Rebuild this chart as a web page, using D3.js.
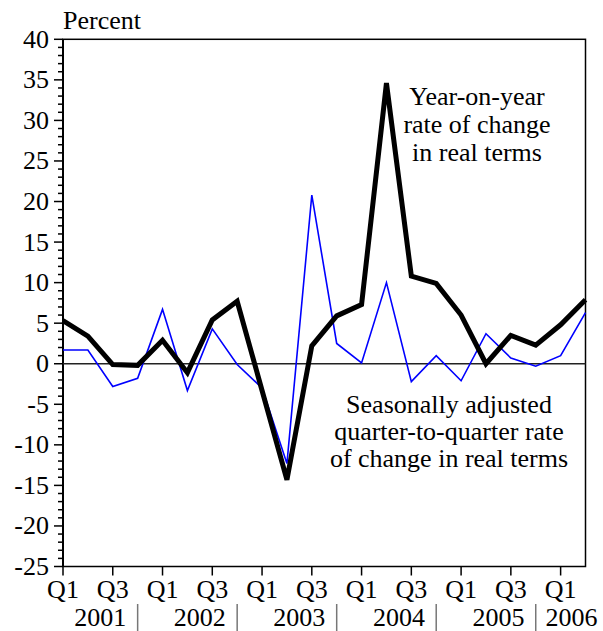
<!DOCTYPE html>
<html>
<head>
<meta charset="utf-8">
<script src="https://cdn.jsdelivr.net/npm/d3@7"></script>
</head>
<body style="margin:0;background:#fff">
<script>
// ---- data ----
const quarters = [
  "2001 Q1","2001 Q2","2001 Q3","2001 Q4",
  "2002 Q1","2002 Q2","2002 Q3","2002 Q4",
  "2003 Q1","2003 Q2","2003 Q3","2003 Q4",
  "2004 Q1","2004 Q2","2004 Q3","2004 Q4",
  "2005 Q1","2005 Q2","2005 Q3","2005 Q4",
  "2006 Q1","2006 Q2"
];
const years = ["2001","2002","2003","2004","2005","2006"];
// Year-on-year rate of change in real terms
const yoy = [5.3, 3.4, -0.1, -0.2, 2.9, -1.1, 5.4, 7.7, -3.3, -14.3, 2.2, 5.9,
             7.3, 34.6, 10.8, 9.9, 6.0, 0.0, 3.5, 2.3, 4.8, 7.9];
// Seasonally adjusted quarter-to-quarter rate of change in real terms
const qoq = [1.7, 1.7, -2.8, -1.8, 6.7, -3.3, 4.3, -0.1, -3.0, -12.3, 20.8, 2.5,
             0.1, 10.0, -2.2, 1.0, -2.1, 3.7, 0.7, -0.3, 1.0, 6.3];
const yTicks = [40, 35, 30, 25, 20, 15, 10, 5, 0, -5, -10, -15, -20, -25];
const yDomain = [-25, 40];

// ---- layout ----
const W = 603, H = 631;
const L = 63, R = 585.5, T = 39.3, B = 566.5;
const FS = 26;

const svg = d3.select("body").append("svg").attr("width", W).attr("height", H)
  .style("display", "block");

const x = d3.scalePoint().domain(quarters).range([L, R]);
const y = d3.scaleLinear().domain(yDomain).range([B, T]);

function txt(sel) {
  return sel.style("font-family", () => '"Liberation Serif"').attr("font-size", FS).attr("fill", "#000");
}

// frame
svg.append("rect").attr("x", L).attr("y", T).attr("width", R - L).attr("height", B - T)
  .attr("fill", "none").attr("stroke", "#000").attr("stroke-width", 1.5);

// y axis minor/major ticks
const minor = d3.range(yDomain[0], yDomain[1] + 1, 1);
svg.append("g").selectAll("line").data(minor).join("line")
  .attr("x1", d => (d % 5 === 0) ? L - 9 : L - 5).attr("x2", L)
  .attr("y1", d => y(d)).attr("y2", d => y(d))
  .attr("stroke", "#000").attr("stroke-width", 1.5);
svg.append("line").attr("x1", L).attr("x2", L).attr("y1", T).attr("y2", B)
  .attr("stroke", "#000").attr("stroke-width", 2);

txt(svg.append("g").selectAll("text").data(yTicks).join("text")
  .attr("x", L - 14).attr("y", d => y(d) + 8.5)
  .attr("text-anchor", "end"))
  .text(d => d);

txt(svg.append("text").attr("x", L).attr("y", 29)).text("Percent");

// x ticks at Q1/Q3
const xTickQ = quarters.filter((q, i) => i % 2 === 0);
svg.append("g").selectAll("line").data(xTickQ).join("line")
  .attr("x1", d => x(d)).attr("x2", d => x(d)).attr("y1", B).attr("y2", B + 9)
  .attr("stroke", "#000").attr("stroke-width", 1.5);
txt(svg.append("g").selectAll("text").data(xTickQ).join("text")
  .attr("x", d => x(d)).attr("y", 598).attr("text-anchor", "middle"))
  .text(d => d.split(" ")[1]);

// year separators at Q4 positions
const sepQ = years.slice(0, -1).map(yr => yr + " Q4");
svg.append("g").selectAll("line").data(sepQ).join("line")
  .attr("x1", d => x(d)).attr("x2", d => x(d)).attr("y1", 604).attr("y2", H)
  .attr("stroke", "#777").attr("stroke-width", 1.5);
txt(svg.append("g").selectAll("text").data(years).join("text")
  .attr("x", (d, i) => i < years.length - 1 ? (x(d + " Q1") + x(d + " Q4")) / 2 : x(d + " Q1") + 11)
  .attr("y", 626).attr("text-anchor", "middle"))
  .text(d => d);

// zero line
svg.append("line").attr("x1", L).attr("x2", R).attr("y1", y(0)).attr("y2", y(0))
  .attr("stroke", "#222").attr("stroke-width", 1.5);

const line = d3.line().x((d, i) => x(quarters[i])).y(d => y(d));

svg.append("path").datum(qoq).attr("d", line)
  .attr("fill", "none").attr("stroke", "#0000ff").attr("stroke-width", 1.6)
  .attr("stroke-linejoin", "miter");
svg.append("path").datum(yoy).attr("d", line)
  .attr("fill", "none").attr("stroke", "#000").attr("stroke-width", 5)
  .attr("stroke-linejoin", "miter");

// annotations
const ann1 = ["Year-on-year", "rate of change", "in real terms"];
txt(svg.append("g").selectAll("text").data(ann1).join("text")
  .attr("x", 477).attr("y", (d, i) => 105 + i * 28).attr("text-anchor", "middle"))
  .text(d => d);
const ann2 = ["Seasonally adjusted", "quarter-to-quarter rate", "of change in real terms"];
txt(svg.append("g").selectAll("text").data(ann2).join("text")
  .attr("x", 449).attr("y", (d, i) => 413 + i * 27).attr("text-anchor", "middle"))
  .text(d => d);
</script>
</body>
</html>
